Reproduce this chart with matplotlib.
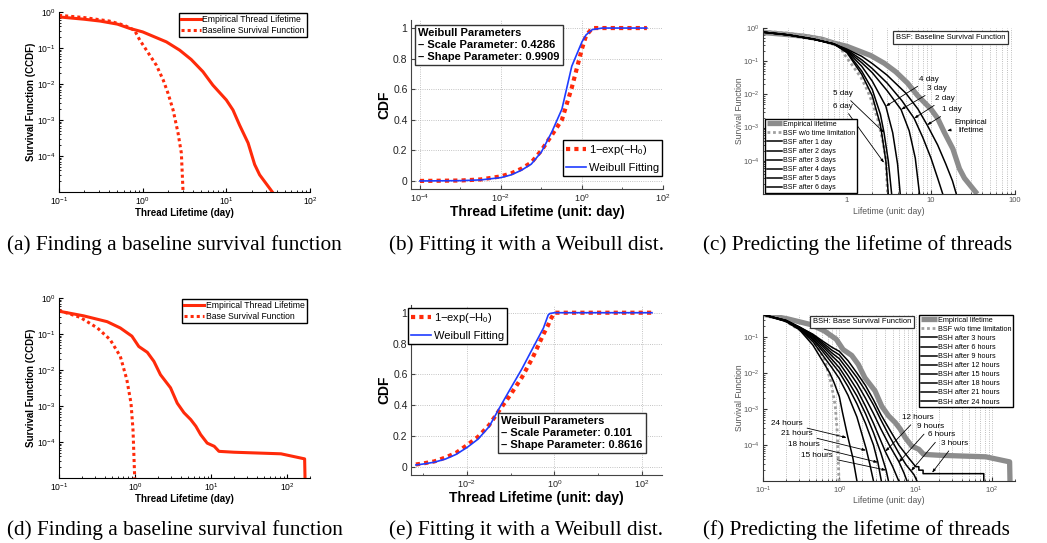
import matplotlib
matplotlib.use('Agg')
import matplotlib.pyplot as plt

plt.rcParams['font.family'] = ['Liberation Sans', 'DejaVu Sans']
plt.rcParams['mathtext.fontset'] = 'custom'
plt.rcParams['mathtext.rm'] = 'Liberation Sans'
plt.rcParams['mathtext.it'] = 'Liberation Sans:italic'
plt.rcParams['mathtext.bf'] = 'Liberation Sans:bold'
plt.rcParams['legend.fancybox'] = False

# ---- (a) survival functions, first data set
a_emp_x = [0.1, 0.2, 0.31, 0.5, 0.70, 1.0, 1.92, 2.77, 3.8, 5.25, 6.9, 10, 12, 14.4, 18.2, 21.8, 25, 35.5]
a_emp_y = [0.73, 0.63, 0.56, 0.46, 0.35, 0.28, 0.148, 0.087, 0.048, 0.022, 0.0093, 0.0036, 0.0019,
           7.2e-4, 2.3e-4, 5.8e-5, 3.0e-5, 1e-5]
a_base_x = [0.1, 0.2, 0.4, 0.6, 0.8, 0.925, 1.11, 1.46, 1.76, 2.01, 2.31, 2.65, 2.9, 3.04]
a_base_y = [0.81, 0.70, 0.56, 0.43, 0.31, 0.165, 0.087, 0.033, 0.0129, 0.0055, 0.0019, 4.3e-4, 1.2e-4, 1e-5]

# ---- (b) CDF fit, first data set
b_x = [1e-4, 1e-3, 0.0032, 0.01, 0.018, 0.032, 0.056, 0.1, 0.18, 0.32, 0.56, 1.0, 1.26, 1.8, 3.2, 40]
b_weib = [0.0, 0.002, 0.007, 0.022, 0.04, 0.07, 0.11, 0.19, 0.32, 0.47, 0.75, 0.91, 0.955, 0.99, 1.0, 1.0]
b_h0 = [0.0, 0.003, 0.01, 0.03, 0.05, 0.08, 0.12, 0.20, 0.30, 0.40, 0.61, 0.865, 0.95, 1.0, 1.0, 1.0]

# ---- (c) BSF after n days
c_days = [1, 2, 3, 4, 5, 6]
c_x = [[0.1, 0.2, 0.4, 0.7, 1.0, 1.5, 2, 3, 5, 7, 9, 12, 15, 18, 20],
       [0.1, 0.2, 0.4, 0.7, 1.0, 1.5, 2, 3, 4.5, 6.3, 8, 10, 12, 13.8],
       [0.1, 0.2, 0.4, 0.7, 1.0, 1.5, 2, 3, 4.4, 5.5, 6.5, 7.3],
       [0.1, 0.2, 0.4, 0.7, 1.0, 1.5, 2, 2.9, 3.5, 4.0, 4.3],
       [0.1, 0.2, 0.4, 0.7, 1.0, 1.5, 2, 2.5, 2.76, 3.1, 3.4],
       [0.1, 0.2, 0.4, 0.7, 1.0, 1.5, 2, 2.5, 2.9, 3.1]]
c_y = [[0.75, 0.62, 0.46, 0.33, 0.23, 0.14, 0.085, 0.038, 0.011, 0.0036, 1.2e-3, 3e-4, 8e-5, 2.5e-5, 1e-5],
       [0.75, 0.62, 0.46, 0.33, 0.22, 0.11, 0.06, 0.022, 0.0065, 1.9e-3, 5e-4, 1.2e-4, 3e-5, 1e-5],
       [0.75, 0.62, 0.46, 0.33, 0.21, 0.09, 0.045, 0.013, 3.5e-3, 8e-4, 1.2e-4, 1e-5],
       [0.75, 0.62, 0.46, 0.33, 0.20, 0.07, 0.025, 4.4e-3, 7e-4, 8e-5, 1e-5],
       [0.75, 0.62, 0.46, 0.33, 0.19, 0.05, 0.014, 0.0025, 7e-4, 1e-4, 1e-5],
       [0.75, 0.62, 0.46, 0.33, 0.18, 0.04, 0.009, 0.0012, 1e-4, 1e-5]]

# ---- (d) survival functions, second data set
d_emp_x = [0.1, 0.21, 0.43, 0.64, 0.91, 1.12, 1.45, 1.77, 2.16, 2.93, 3.59, 4.4, 5.4, 6.3, 7.3, 8.9,
           11, 12.7, 20, 83, 170, 172]
d_emp_y = [0.43, 0.32, 0.22, 0.147, 0.087, 0.045, 0.031, 0.0174, 0.0074, 0.0032, 0.0012, 6.5e-4,
           4.2e-4, 2.75e-4, 1.6e-4, 9.3e-5, 7.6e-5, 5.5e-5, 5.2e-5, 4.7e-5, 3.4e-5, 1e-5]
d_base_x = [0.1, 0.19, 0.32, 0.47, 0.64, 0.78, 0.885, 0.94, 0.99]
d_base_y = [0.45, 0.29, 0.147, 0.07, 0.024, 0.0054, 0.0012, 2.2e-4, 1e-5]

# ---- (e) CDF fit, second data set
e_x = [6.8e-4, 1e-3, 1.8e-3, 3.2e-3, 5.6e-3, 0.01, 0.018, 0.032, 0.056, 0.1, 0.18, 0.32, 0.56,
       0.72, 0.79, 1.0, 1.8, 170]
e_weib = [0.012, 0.018, 0.03, 0.05, 0.08, 0.125, 0.18, 0.26, 0.385, 0.51, 0.635, 0.77, 0.9,
          0.985, 0.995, 1.0, 1.0, 1.0]
e_h0 = [0.015, 0.022, 0.035, 0.06, 0.09, 0.14, 0.195, 0.27, 0.37, 0.47, 0.58, 0.71, 0.86,
        0.92, 0.95, 1.0, 1.0, 1.0]

# ---- (f) BSH after n hours
f_hours = [3, 6, 9, 12, 15, 18, 21, 24]
f_x = [[0.1, 0.2, 0.3, 0.45, 0.6, 0.8, 1.0, 1.3, 1.7, 2.2, 2.8, 3.5, 4.5, 6, 8, 10, 11, 11, 12.5, 12.5, 78, 78],
       [0.1, 0.2, 0.3, 0.45, 0.6, 0.8, 1.0, 1.3, 1.7, 2.2, 2.8, 3.5, 4.5, 6, 7.5, 8.7, 9.5, 10.4],
       [0.1, 0.2, 0.3, 0.45, 0.6, 0.8, 1.0, 1.3, 1.7, 2.2, 2.8, 3.5, 4.5, 6, 7, 7.7],
       [0.1, 0.2, 0.3, 0.45, 0.6, 0.8, 1.0, 1.3, 1.7, 2.2, 2.8, 3.4, 4.0, 5, 6],
       [0.1, 0.2, 0.3, 0.45, 0.6, 0.8, 1.0, 1.3, 1.7, 2.2, 2.8, 3.5, 4.1, 4.4],
       [0.1, 0.2, 0.3, 0.45, 0.6, 0.8, 1.0, 1.3, 1.7, 2.2, 2.8, 3.2, 3.55],
       [0.1, 0.2, 0.3, 0.45, 0.6, 0.8, 1.0, 1.3, 1.7, 2.24, 2.5, 2.8],
       [0.1, 0.2, 0.3, 0.45, 0.6, 0.75, 0.85, 1.0, 1.1, 1.29, 1.5, 1.7]]
f_y = [[0.42, 0.29, 0.19, 0.12, 0.078, 0.052, 0.04, 0.022, 0.01, 0.0045, 0.0018, 7e-4, 2.8e-4, 1e-4,
        4.5e-5, 2.5e-5, 2.5e-5, 2e-5, 2e-5, 1.6e-5, 1.6e-5, 1e-5],
       [0.42, 0.29, 0.19, 0.115, 0.07, 0.043, 0.032, 0.016, 0.0075, 0.0032, 0.0013, 5e-4, 1.8e-4, 6e-5,
        2.8e-5, 1.9e-5, 1.5e-5, 1e-5],
       [0.42, 0.29, 0.185, 0.108, 0.063, 0.036, 0.025, 0.012, 0.0052, 0.002, 7.5e-4, 2.8e-4, 1e-4,
        3.5e-5, 1.7e-5, 1e-5],
       [0.42, 0.285, 0.18, 0.1, 0.056, 0.03, 0.019, 0.0085, 0.0035, 0.0012, 4e-4, 1.5e-4, 6.6e-5, 2.5e-5, 1e-5],
       [0.42, 0.28, 0.175, 0.092, 0.048, 0.024, 0.014, 0.006, 0.0023, 7.5e-4, 2.2e-4, 6e-5, 2e-5, 1e-5],
       [0.42, 0.28, 0.17, 0.085, 0.041, 0.019, 0.0105, 0.0042, 1.4e-3, 4e-4, 1e-4, 3.3e-5, 1e-5],
       [0.42, 0.275, 0.165, 0.075, 0.032, 0.014, 0.007, 0.0024, 6e-4, 8e-5, 3e-5, 1e-5],
       [0.42, 0.27, 0.16, 0.06, 0.022, 0.01, 0.0055, 0.0022, 8e-4, 1.7e-4, 4.5e-5, 1e-5]]

captions = ['(a) Finding a baseline survival function', '(b) Fitting it with a Weibull dist.',
            '(c) Predicting the lifetime of threads', '(d) Finding a baseline survival function',
            '(e) Fitting it with a Weibull dist.', '(f) Predicting the lifetime of threads']

RED = '#ff2a0a'
BLUE = '#1f3cff'
GRAY = '#8c8c8c'
DOT = (0, (1, 1))

W, H = 1047, 543
fig = plt.figure(figsize=(W / 100, H / 100), dpi=100)


def axes_px(l, t, r, b):
    return fig.add_axes([l / W, 1 - b / H, (r - l) / W, (b - t) / H])


def style(ax, color='k', labelcolor='k', fs=6.2):
    for s in ['top', 'right']:
        ax.spines[s].set_visible(False)
    for s in ['left', 'bottom']:
        ax.spines[s].set_color(color)
        ax.spines[s].set_linewidth(0.8)
    ax.tick_params(which='both', direction='in', colors=color, labelcolor=labelcolor,
                   labelsize=fs, pad=2.5)
    ax.tick_params(which='major', length=3)
    ax.tick_params(which='minor', length=1.6)


def frame(leg):
    leg.get_frame().set_edgecolor('k')
    leg.get_frame().set_linewidth(1.0)
    leg.get_frame().set_alpha(1)


def note(ax, text, xy, xytext, ha, fs):
    ax.annotate(text, xy=xy, xytext=xytext, ha=ha, va='center', fontsize=fs,
                arrowprops=dict(arrowstyle='-|>,head_length=0.35,head_width=0.12', color='k',
                                lw=0.6, shrinkA=1, shrinkB=0))


# ---------- (a) and (d)
def survival_panel(ax, ex, ey, bx, by, base_label, xmax):
    style(ax)
    ax.set_xscale('log')
    ax.set_yscale('log')
    ax.plot(ex, ey, color=RED, lw=2.2, label='Empirical Thread Lifetime')
    ax.plot(bx, by, color=RED, lw=2.2, ls=DOT, label=base_label)
    ax.set_xlim(0.1, xmax)
    ax.set_ylim(1e-5, 1)
    ax.set_yticks([1e-4, 1e-3, 1e-2, 1e-1, 1])
    ax.set_xlabel('Thread Lifetime (day)', fontsize=7, fontweight='bold')
    ax.set_ylabel('Survival Function (CCDF)', fontsize=7, fontweight='bold')
    ax.xaxis.set_label_coords(0.5, -0.09)
    ax.yaxis.set_label_coords(-0.09, 0.5)
    leg = ax.legend(loc='upper right', bbox_to_anchor=(0.988, 0.994), fontsize=6.2,
                    handlelength=2.3, borderpad=0.25, labelspacing=0.15, handletextpad=0.2,
                    borderaxespad=0)
    frame(leg)


ax_a = axes_px(59, 12, 310, 192)
survival_panel(ax_a, a_emp_x, a_emp_y, a_base_x, a_base_y, 'Baseline Survival Function', 100)
ax_d = axes_px(59, 298, 310, 478)
survival_panel(ax_d, d_emp_x, d_emp_y, d_base_x, d_base_y, 'Base Survival Function', 200)


# ---------- (b) and (e)
def cdf_panel(ax, x, h0, weib, xlim, xticks, minor, params, ppos, legloc, legbox):
    style(ax, color='#444444', labelcolor='#222222', fs=7.5)
    ax.tick_params(axis='x', labelsize=6.5)
    ax.set_xscale('log')
    ax.plot(x, h0, color=RED, lw=3, ls=DOT, label='1−exp(−H$_0$)')
    ax.plot(x, weib, color=BLUE, lw=1.2, label='Weibull Fitting')
    ax.set_xlim(*xlim)
    ax.set_ylim(-0.05, 1.05)
    ax.set_xticks(xticks)
    ax.set_xticks(minor, minor=True)
    ax.xaxis.set_minor_formatter(plt.NullFormatter())
    ax.set_yticks([0, 0.2, 0.4, 0.6, 0.8, 1])
    ax.set_yticklabels(['0', '0.2', '0.4', '0.6', '0.8', '1'])
    ax.grid(True, which='major', ls=':', lw=0.6, color='#b0b0b0')
    ax.set_axisbelow(True)
    ax.set_xlabel('Thread Lifetime (unit: day)', fontsize=10, fontweight='bold')
    ax.set_ylabel('CDF', fontsize=10, fontweight='bold')
    ax.xaxis.set_label_coords(0.5, -0.095)
    ax.yaxis.set_label_coords(-0.078, 0.5)
    ax.text(ppos[0], ppos[1], params, transform=ax.transAxes, ha='left', va='top',
            fontsize=8, fontweight='bold', linespacing=1.25,
            bbox=dict(boxstyle='square,pad=0.3', fc='white', ec='#333333', lw=1.0), zorder=5)
    leg = ax.legend(loc=legloc, bbox_to_anchor=legbox, fontsize=8, handlelength=1.8,
                    borderpad=0.3, labelspacing=0.5, handletextpad=0.2, borderaxespad=0)
    frame(leg)


ax_b = axes_px(411, 20.4, 663, 188.6)
cdf_panel(ax_b, b_x, b_h0, b_weib, (10 ** -4.22, 100), [1e-4, 1e-2, 1, 100], [1e-3, 1e-1, 10],
          'Weibull Parameters\n– Scale Parameter: 0.4286\n– Shape Parameter: 0.9909',
          (0.028, 0.955), 'lower right', (0.996, 0.075))
ax_e = axes_px(411, 305, 662, 474.5)
cdf_panel(ax_e, e_x, e_h0, e_weib, (10 ** -3.28, 10 ** 2.46), [1e-2, 1, 100], [1e-3, 1e-1, 10],
          'Weibull Parameters\n– Scale Parameter: 0.101\n– Shape Parameter: 0.8616',
          (0.36, 0.345), 'upper left', (-0.012, 0.982))


# ---------- (c) and (f)
def predict_panel(ax, ex, ey, bx, by, xs, ys, labels, xmax, ymax):
    style(ax, color='#333333', labelcolor='#555555', fs=5.5)
    ax.set_xscale('log')
    ax.set_yscale('log')
    ax.grid(True, axis='x', which='both', ls=':', lw=0.6, color='#a8a8a8')
    ax.plot(ex, ey, color=GRAY, lw=3.8, label='Empirical lifetime', solid_capstyle='butt')
    ax.plot(bx, by, color='#a0a0a0', lw=2, ls=DOT, label='BSF w/o time limitation')
    for x, y, lab in zip(xs, ys, labels):
        ax.plot(x, y, color='k', lw=1.1, label=lab)
    ax.set_xlim(0.1, xmax)
    ax.set_ylim(1e-5, ymax)
    ax.set_xlabel('Lifetime (unit: day)', fontsize=6.2, color='#555555')
    ax.set_ylabel('Survival Function', fontsize=6.2, color='#555555')
    ax.xaxis.set_label_coords(0.5, -0.078)
    ax.yaxis.set_label_coords(-0.076, 0.5)


ax_c = axes_px(763, 28, 1015, 194)
predict_panel(ax_c, a_emp_x, a_emp_y, a_base_x, a_base_y, c_x, c_y,
              ['BSF after 1 day'] + ['BSF after %d days' % d for d in c_days[1:]], 100, 1)
ax_c.set_xticks([1, 10, 100], ['1', '10', '100'])
ax_c.set_yticks([1e-4, 1e-3, 1e-2, 1e-1, 1])
leg = ax_c.legend(loc='lower left', bbox_to_anchor=(0.008, 0.006), fontsize=5, handlelength=2.2,
                  borderpad=0.25, labelspacing=0.3, handletextpad=0.1, borderaxespad=0)
frame(leg)
ax_c.text(0.744, 0.943, 'BSF: Baseline Survival Function', transform=ax_c.transAxes, ha='center',
          va='center', fontsize=5.5, bbox=dict(boxstyle='square,pad=0.35', fc='white', ec='#333333', lw=0.9))
note(ax_c, '5 day', (2.76, 7.1e-4), (1.18, 0.0107), 'right', 5.8)
note(ax_c, '6 day', (2.76, 8.7e-5), (1.18, 4.4e-3), 'right', 5.8)
note(ax_c, '4 day', (2.9, 4.4e-3), (7.2, 0.0285), 'left', 5.8)
note(ax_c, '3 day', (4.4, 3.5e-3), (9.0, 0.015), 'left', 5.8)
note(ax_c, '2 day', (6.3, 1.9e-3), (11.2, 7.6e-3), 'left', 5.8)
note(ax_c, '1 day', (9.0, 1.2e-3), (13.5, 3.5e-3), 'left', 5.8)
note(ax_c, 'Empirical\nlifetime', (15.5, 8.1e-4), (30, 1.07e-3), 'center', 5.8)

ax_f = axes_px(763, 315, 1015, 481)
predict_panel(ax_f, d_emp_x, d_emp_y, d_base_x, d_base_y, f_x, f_y,
              ['BSH after %d hours' % h for h in f_hours], 200, 0.41)
ax_f.set_xticks([0.1, 1, 10, 100])
ax_f.set_yticks([1e-4, 1e-3, 1e-2, 1e-1])
ax_f.xaxis.set_label_coords(0.5, -0.088)
leg = ax_f.legend(loc='upper right', bbox_to_anchor=(0.992, 1.0), fontsize=5.2, handlelength=2.2,
                  borderpad=0.25, labelspacing=0.28, handletextpad=0.1, borderaxespad=0)
frame(leg)
ax_f.text(0.393, 0.958, 'BSH: Base Survival Function', transform=ax_f.transAxes, ha='center',
          va='center', fontsize=5.5, bbox=dict(boxstyle='square,pad=0.35', fc='white', ec='#333333', lw=0.9))
note(ax_f, '24 hours', (1.25, 1.6e-4), (0.334, 4e-4), 'right', 5.9)
note(ax_f, '21 hours', (2.24, 7.1e-5), (0.45, 2.1e-4), 'right', 5.9)
note(ax_f, '18 hours', (3.2, 3.3e-5), (0.56, 1.05e-4), 'right', 5.9)
note(ax_f, '15 hours', (4.1, 2e-5), (0.83, 5.1e-5), 'right', 5.9)
note(ax_f, '12 hours', (4.0, 6.6e-5), (6.6, 5.8e-4), 'left', 5.9)
note(ax_f, '9 hours', (6.0, 3.3e-5), (10.4, 3.2e-4), 'left', 5.9)
note(ax_f, '6 hours', (8.7, 1.9e-5), (14.5, 1.9e-4), 'left', 5.9)
note(ax_f, '3 hours', (16.4, 1.7e-5), (21.4, 1.1e-4), 'left', 5.9)

# ---------- captions
cap_x = [7, 389, 703]
for i, cap in enumerate(captions):
    fig.text(cap_x[i % 3] / W, 1 - (250 if i < 3 else 535) / H, cap, ha='left', va='baseline',
             fontsize=15.3, family=['Liberation Serif', 'DejaVu Serif'])

fig.savefig('out.png', dpi=100)
